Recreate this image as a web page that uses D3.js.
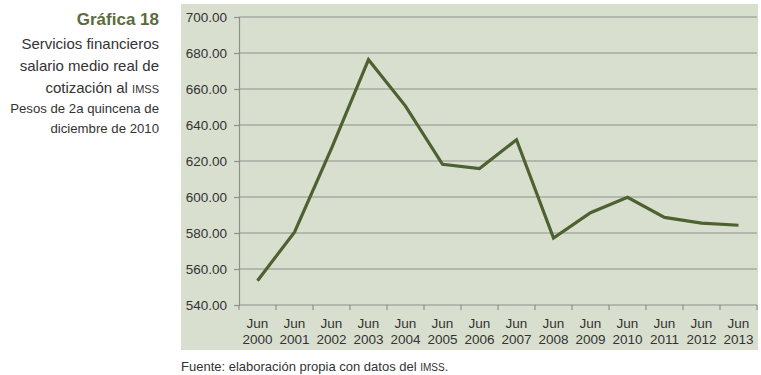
<!DOCTYPE html>
<html>
<head>
    <meta charset="utf-8">
    <title>Gráfica 18</title>
    <style>
        html, body { margin: 0; padding: 0; background: #fff; }
        svg { display: block; font-family: "Liberation Sans", Arial, sans-serif; }
    </style>
    <script src="https://d3js.org/d3.v7.min.js"></script>
</head>
<body>
    <svg id="chart"></svg>
<script>
    // datos
    const anios = ["2000", "2001", "2002", "2003", "2004", "2005", "2006",
                   "2007", "2008", "2009", "2010", "2011", "2012", "2013"];
    const mes = "Jun";
    const salario = [553.5, 580.5, 627.0, 676.3, 650.5, 618.2, 615.8,
                     631.8, 577.2, 591.3, 599.8, 588.7, 585.5, 584.3];
    const yTicks = [540, 560, 580, 600, 620, 640, 660, 680, 700];

    const width = 761, height = 375;
    const panel = { x0: 181, y0: 4, x1: 758, y1: 350 };
    const plot = { left: 239, right: 757, top: 17, bottom: 305 };

    const svg = d3.select("#chart").attr("width", width).attr("height", height);

    // fondo del panel
    svg.append("rect")
        .attr("x", panel.x0).attr("y", panel.y0)
        .attr("width", panel.x1 - panel.x0).attr("height", panel.y1 - panel.y0)
        .attr("fill", "#d9dfcf");

    const x = d3.scaleBand().domain(anios).range([plot.left, plot.right]).padding(0);
    const y = d3.scaleLinear().domain([540, 700]).range([plot.bottom, plot.top]);

    // eje y
    const yAxis = svg.append("g")
        .attr("transform", "translate(" + plot.left + ",0)")
        .call(d3.axisLeft(y).tickValues(yTicks).tickSize(5).tickFormat(d3.format(".2f")));
    yAxis.select(".domain").attr("stroke", "#8c918a").attr("stroke-width", 1.2);
    yAxis.selectAll(".tick line").attr("stroke", "#8c918a").attr("stroke-width", 1.2);
    yAxis.selectAll(".tick text")
        .attr("x", -12)
        .attr("font-size", "13.5px")
        .attr("font-family", "Liberation Sans, Arial, sans-serif")
        .attr("fill", "#333");

    // cuadrícula
    svg.append("g").selectAll("line")
        .data(yTicks.filter(d => d > 540))
        .enter().append("line")
        .attr("x1", plot.left).attr("x2", plot.right)
        .attr("y1", d => y(d)).attr("y2", d => y(d))
        .attr("stroke", "#8c918a").attr("stroke-width", 1.2);

    // eje x con marcas en los bordes de cada categoría
    svg.append("line")
        .attr("x1", plot.left).attr("x2", plot.right)
        .attr("y1", plot.bottom).attr("y2", plot.bottom)
        .attr("stroke", "#8c918a").attr("stroke-width", 1.2);
    const bordes = anios.map(d => x(d)).concat([x(anios[anios.length - 1]) + x.bandwidth()]);
    svg.append("g").selectAll("line")
        .data(bordes)
        .enter().append("line")
        .attr("x1", d => d).attr("x2", d => d)
        .attr("y1", plot.bottom).attr("y2", plot.bottom + 5)
        .attr("stroke", "#8c918a").attr("stroke-width", 1.2);

    const xLab = svg.append("g").selectAll("text")
        .data(anios)
        .enter().append("text")
        .attr("text-anchor", "middle")
        .attr("font-size", "13.5px")
        .attr("fill", "#333");
    xLab.append("tspan").attr("x", d => x(d) + x.bandwidth() / 2).attr("y", 327.5).text(mes);
    xLab.append("tspan").attr("x", d => x(d) + x.bandwidth() / 2).attr("y", 343.5).text(d => d);

    // serie
    const line = d3.line()
        .x((d, i) => x(anios[i]) + x.bandwidth() / 2)
        .y(d => y(d));
    svg.append("path")
        .datum(salario)
        .attr("d", line)
        .attr("fill", "none")
        .attr("stroke", "#4e6131")
        .attr("stroke-width", 3.2)
        .attr("stroke-linejoin", "miter");

    // título
    const tx = 159;
    svg.append("text").attr("x", tx).attr("y", 25)
        .attr("text-anchor", "end").attr("font-size", "17px").attr("font-weight", "bold")
        .attr("fill", "#5b6b3c").text("Gráfica 18");
    svg.append("text").attr("x", tx).attr("y", 48.5)
        .attr("text-anchor", "end").attr("font-size", "15px").attr("fill", "#333")
        .text("Servicios financieros");
    svg.append("text").attr("x", tx).attr("y", 70.5)
        .attr("text-anchor", "end").attr("font-size", "15px").attr("fill", "#333")
        .text("salario medio real de");
    const t3 = svg.append("text").attr("x", tx).attr("y", 92.5)
        .attr("text-anchor", "end").attr("font-size", "15px").attr("fill", "#333");
    t3.append("tspan").text("cotización al ");
    t3.append("tspan").attr("font-size", "11px").text("IMSS");
    svg.append("text").attr("x", tx).attr("y", 112.5)
        .attr("text-anchor", "end").attr("font-size", "13.2px").attr("fill", "#333")
        .text("Pesos de 2a quincena de");
    svg.append("text").attr("x", tx).attr("y", 132.5)
        .attr("text-anchor", "end").attr("font-size", "13.2px").attr("fill", "#333")
        .text("diciembre de 2010");

    // fuente
    const f = svg.append("text").attr("x", 181).attr("y", 371)
        .attr("font-size", "13px").attr("fill", "#333");
    f.append("tspan").text("Fuente: elaboración propia con datos del ");
    f.append("tspan").attr("font-size", "10px").text("IMSS");
    f.append("tspan").text(".");
</script>
</body>
</html>
